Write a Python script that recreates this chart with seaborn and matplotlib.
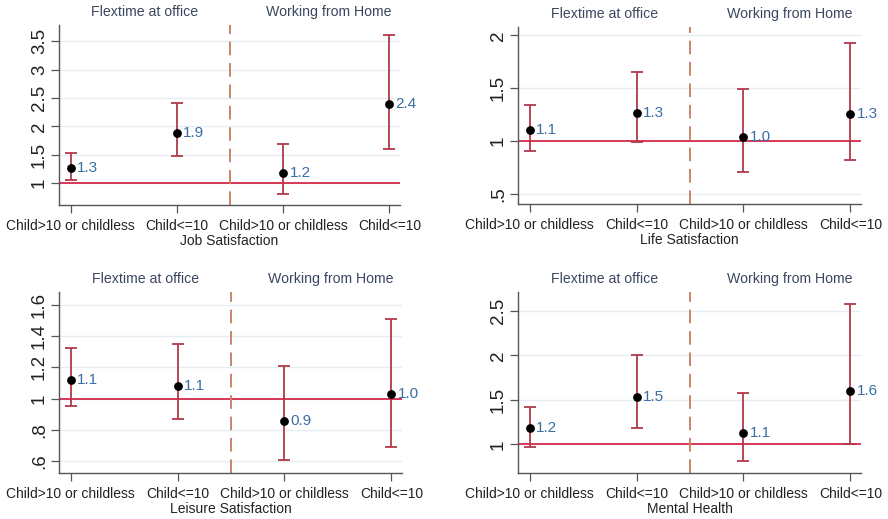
import numpy as np
import pandas as pd
import matplotlib
matplotlib.use("Agg")
import matplotlib.pyplot as plt
import seaborn as sns

# ---- Data ----
groups = ["Child>10 or childless", "Child<=10", "Child>10 or childless", "Child<=10"]
sections = ["Flextime at office", "Working from Home"]
outcomes = ["Job Satisfaction", "Life Satisfaction", "Leisure Satisfaction", "Mental Health"]

job_est = [1.27, 1.88, 1.17, 2.40]
job_lo = [1.06, 1.47, 0.80, 1.60]
job_hi = [1.52, 2.42, 1.68, 3.62]

life_est = [1.11, 1.27, 1.04, 1.26]
life_lo = [0.91, 0.99, 0.71, 0.82]
life_hi = [1.34, 1.65, 1.49, 1.93]

leisure_est = [1.12, 1.08, 0.86, 1.03]
leisure_lo = [0.95, 0.87, 0.61, 0.69]
leisure_hi = [1.32, 1.35, 1.21, 1.51]

mental_est = [1.18, 1.53, 1.13, 1.60]
mental_lo = [0.97, 1.18, 0.81, 1.00]
mental_hi = [1.42, 2.00, 1.58, 2.58]

yticks = [
    [1, 1.5, 2, 2.5, 3, 3.5],
    [0.5, 1, 1.5, 2],
    [0.6, 0.8, 1, 1.2, 1.4, 1.6],
    [1, 1.5, 2, 2.5],
]
ylims = [(0.61, 3.79), (0.405, 2.08), (0.525, 1.68), (0.68, 2.71)]

panels = [
    (job_est, job_lo, job_hi),
    (life_est, life_lo, life_hi),
    (leisure_est, leisure_lo, leisure_hi),
    (mental_est, mental_lo, mental_hi),
]

# ---- Style ----
sns.set_style("white")
plt.rcParams["font.family"] = ["Liberation Sans", "DejaVu Sans"]

ci_color = "#b03a4a"
ref_color = "#d6294a"
dash_color = "#c8866a"
label_color = "#3a6ea5"
title_color = "#3b4660"
grid_color = "#e6edf1"
spine_color = "#555555"
text_color = "#222222"

fig = plt.figure(figsize=(8.88, 5.19), dpi=100)
W, H = 888, 519
boxes = [(59, 25, 400, 205), (518, 27, 861, 204), (59, 292, 402, 473), (518, 292, 861, 473)]


def stata_fmt(v):
    s = f"{v:g}"
    if s.startswith("0."):
        s = s[1:]
    return s


for i, (est, lo, hi) in enumerate(panels):
    x0, y0, x1, y1 = boxes[i]
    ax = fig.add_axes([x0 / W, 1 - y1 / H, (x1 - x0) / W, (y1 - y0) / H])
    df = pd.DataFrame({"pos": [1, 2, 3, 4], "est": est, "lo": lo, "hi": hi})

    for t in yticks[i]:
        ax.axhline(t, color=grid_color, lw=1.0, zorder=0)
    ax.axhline(1, color=ref_color, lw=1.3, zorder=1)
    ax.axvline(2.5, color=dash_color, lw=1.4, ls=(0, (7, 4)), zorder=1)

    ax.errorbar(df["pos"], df["est"], yerr=[df["est"] - df["lo"], df["hi"] - df["est"]],
                fmt="none", ecolor=ci_color, elinewidth=1.3, capsize=4, capthick=1.3, zorder=2)
    sns.scatterplot(data=df, x="pos", y="est", color="black", s=40, edgecolor="black",
                    linewidth=0, zorder=3, ax=ax)
    for _, r in df.iterrows():
        ax.annotate(f"{r['est']:.1f}", (r["pos"], r["est"]), xytext=(4.5, 0),
                    textcoords="offset points", va="center", ha="left",
                    color=label_color, fontsize=11)

    ax.set_xlim(0.89, 4.1)
    ax.set_ylim(*ylims[i])
    ax.set_xticks([1, 2, 3, 4])
    ax.set_xticklabels(groups, fontsize=10, color=text_color)
    ax.set_yticks(yticks[i])
    ax.set_yticklabels([stata_fmt(t) for t in yticks[i]], rotation=90, va="center",
                       fontsize=13.5, color=text_color)
    ax.tick_params(axis="both", which="both", length=6, width=0.9, color=spine_color,
                   bottom=True, left=True, pad=2)
    ax.tick_params(axis="x", pad=4)
    ax.set_xlabel(outcomes[i], fontsize=10, color=text_color, labelpad=1)
    ax.set_ylabel("")
    sns.despine(ax=ax)
    for sp in ["left", "bottom"]:
        ax.spines[sp].set_color(spine_color)
        ax.spines[sp].set_linewidth(1.0)

    # section titles above the plot region
    for xc, lab in zip([1.7, 3.43], sections):
        ax.text(xc, 1.035, lab, transform=ax.get_xaxis_transform(), ha="center", va="bottom",
                fontsize=10.2, color=title_color)

fig.savefig("out.png", dpi=100, facecolor="white")
